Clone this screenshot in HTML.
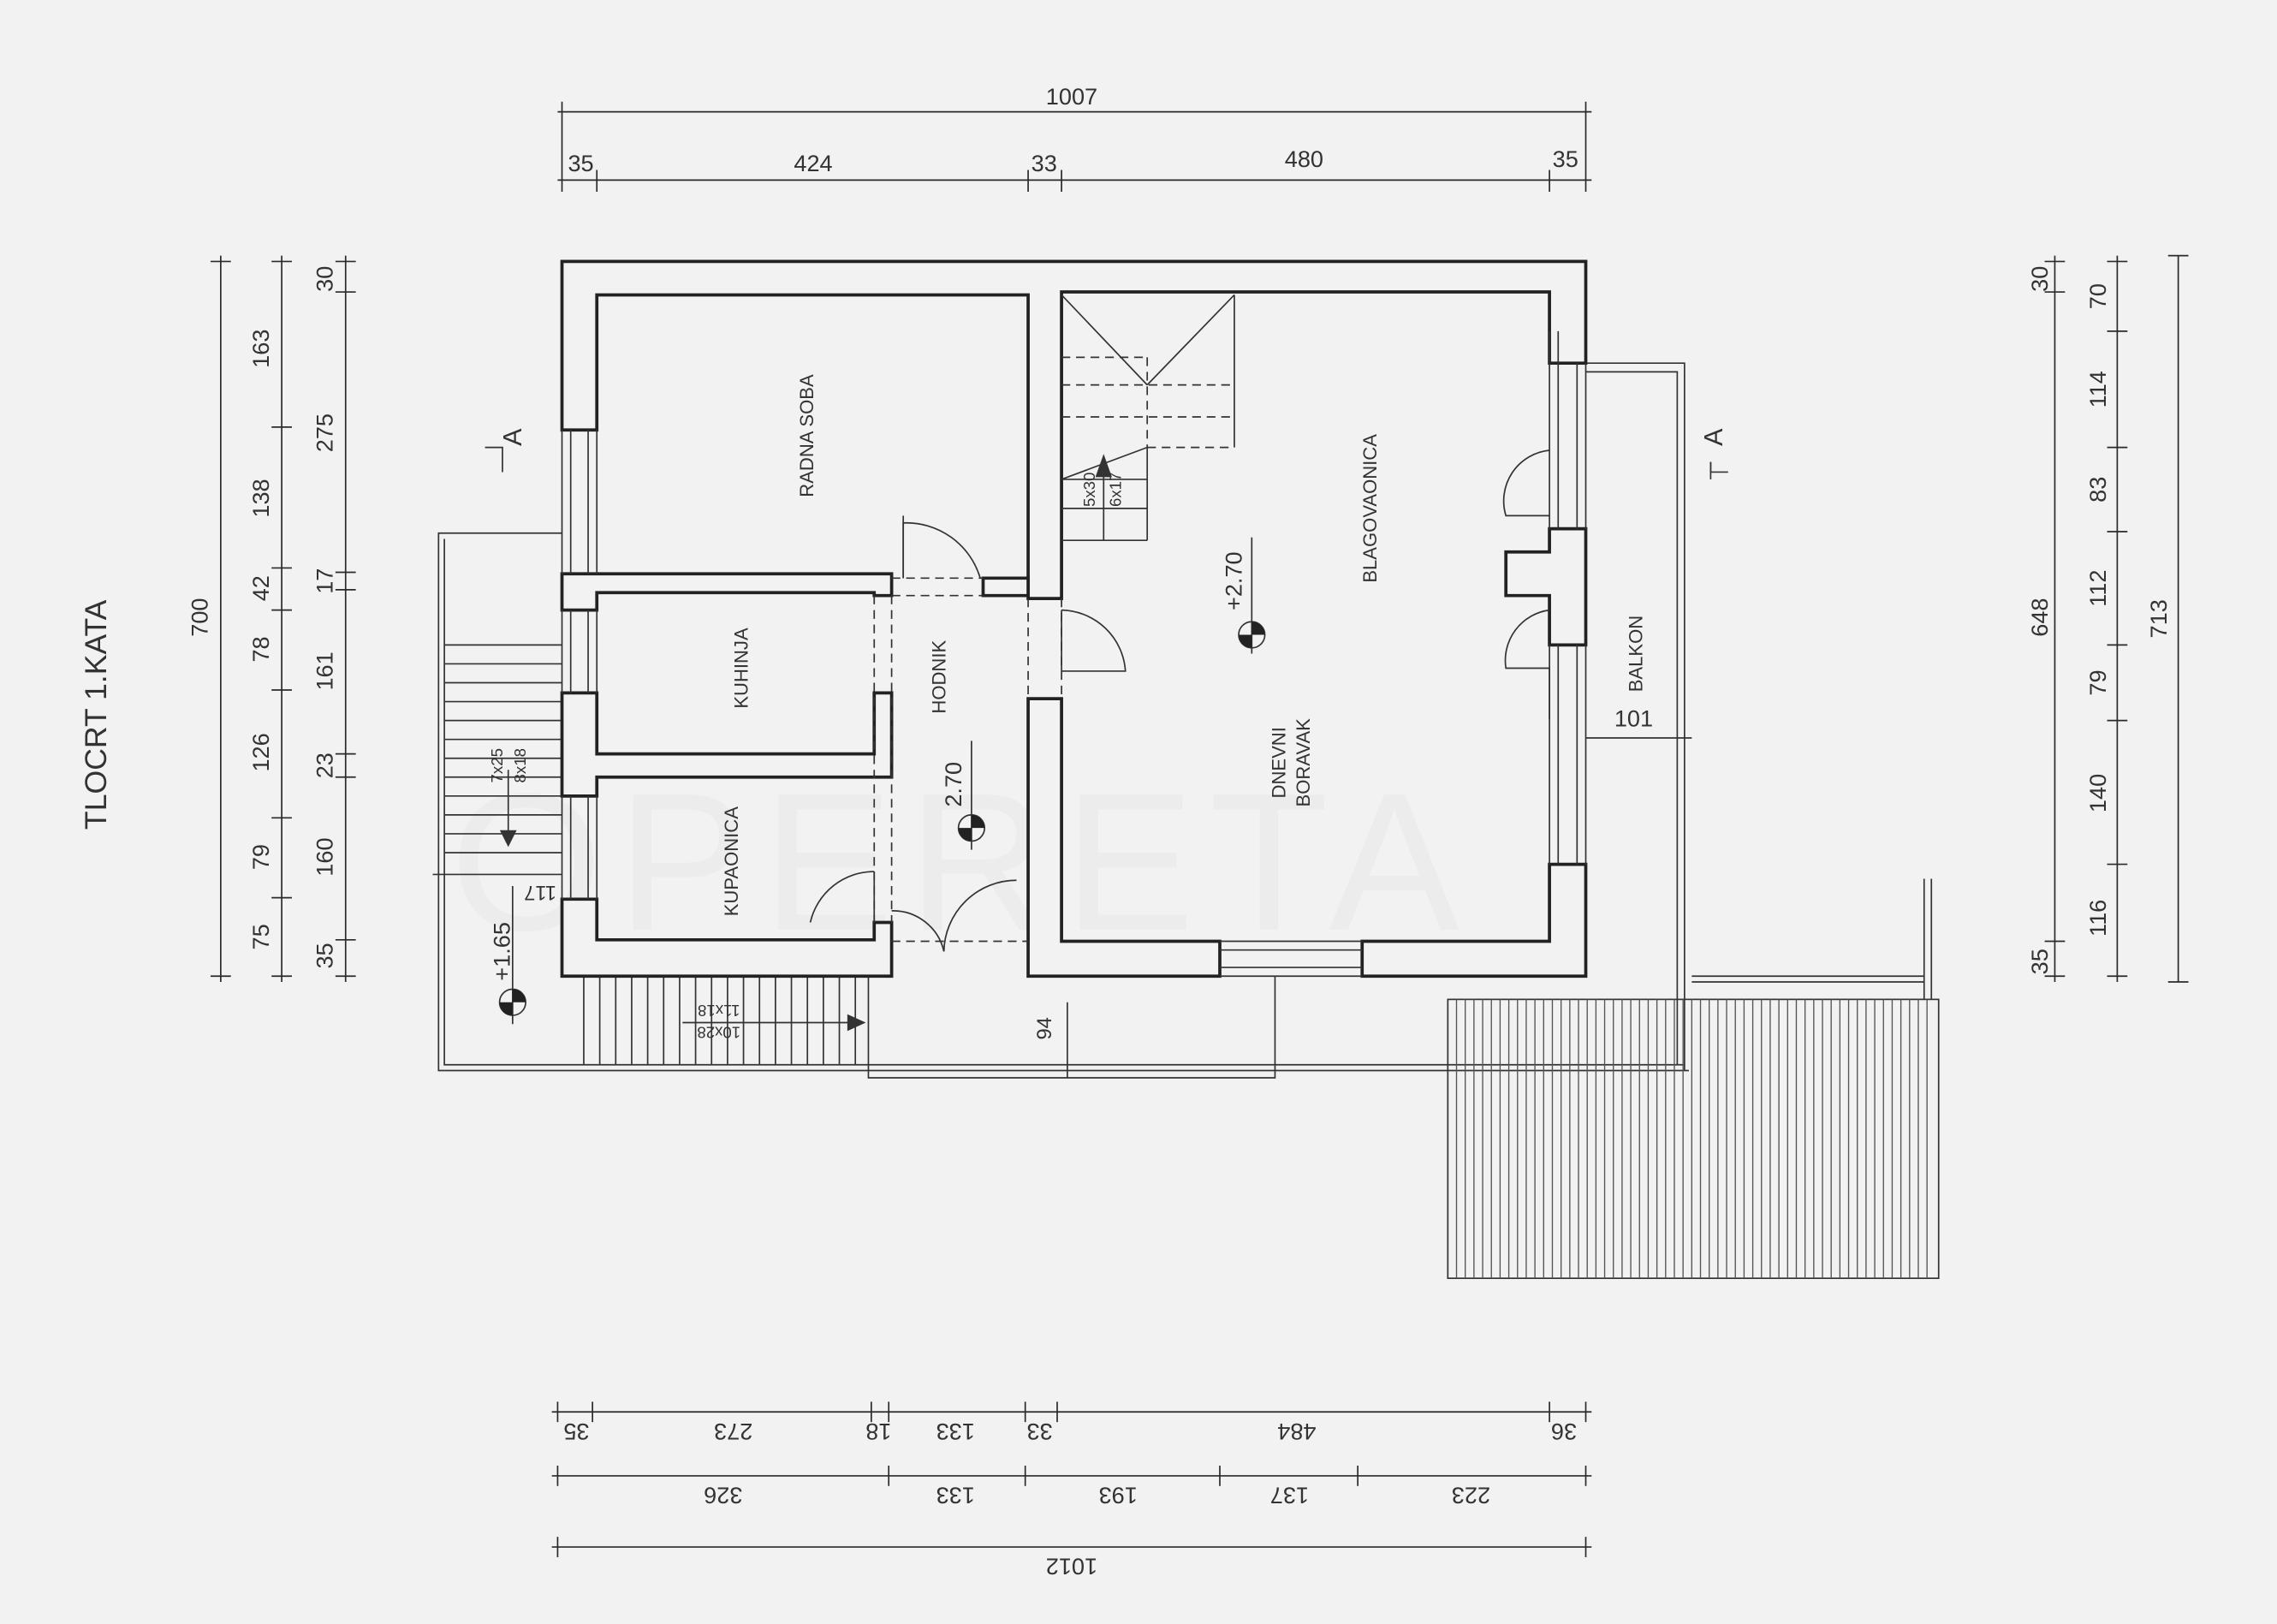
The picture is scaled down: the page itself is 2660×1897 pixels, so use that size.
<!DOCTYPE html>
<html><head><meta charset="utf-8"><style>
html,body{margin:0;padding:0;background:#f2f2f2;}
svg{display:block;}
text{font-family:"Liberation Sans",sans-serif;fill:#333;}
</style></head><body>
<svg width="2660" height="1897" viewBox="0 0 1568 1118" preserveAspectRatio="none" xmlns="http://www.w3.org/2000/svg">
<rect width="1568" height="1118" fill="#f2f2f2"/>
<!-- watermark -->
<text x="310" y="640" font-size="135" style="fill:#ececec" letter-spacing="10">OPERETA</text>
<g stroke="#2a2a2a" fill="none" stroke-width="1">
<line x1="384" y1="77" x2="1096" y2="77"/>
<line x1="384" y1="124" x2="1096" y2="124"/>
<line x1="387" y1="70" x2="387" y2="132"/><line x1="1092" y1="70" x2="1092" y2="132"/>
<line x1="411" y1="117" x2="411" y2="132"/><line x1="708" y1="117" x2="708" y2="132"/><line x1="731" y1="117" x2="731" y2="132"/><line x1="1067" y1="117" x2="1067" y2="132"/>
<line x1="152" y1="176" x2="152" y2="676"/>
<line x1="194" y1="176" x2="194" y2="676"/>
<line x1="238" y1="176" x2="238" y2="676"/>
<line x1="145" y1="180" x2="159" y2="180"/><line x1="145" y1="672" x2="159" y2="672"/>
<line x1="187" y1="180" x2="201" y2="180"/><line x1="187" y1="294" x2="201" y2="294"/><line x1="187" y1="391" x2="201" y2="391"/><line x1="187" y1="420" x2="201" y2="420"/><line x1="187" y1="475" x2="201" y2="475"/><line x1="187" y1="563" x2="201" y2="563"/><line x1="187" y1="618" x2="201" y2="618"/><line x1="187" y1="672" x2="201" y2="672"/>
<line x1="231" y1="180" x2="245" y2="180"/><line x1="231" y1="201" x2="245" y2="201"/><line x1="231" y1="394" x2="245" y2="394"/><line x1="231" y1="406" x2="245" y2="406"/><line x1="231" y1="519" x2="245" y2="519"/><line x1="231" y1="535" x2="245" y2="535"/><line x1="231" y1="647" x2="245" y2="647"/><line x1="231" y1="672" x2="245" y2="672"/>
<line x1="1415" y1="176" x2="1415" y2="676"/>
<line x1="1458" y1="176" x2="1458" y2="676"/>
<line x1="1500" y1="176" x2="1500" y2="676"/>
<line x1="1408" y1="180" x2="1422" y2="180"/><line x1="1408" y1="201" x2="1422" y2="201"/><line x1="1408" y1="648" x2="1422" y2="648"/><line x1="1408" y1="672" x2="1422" y2="672"/>
<line x1="1451" y1="180" x2="1465" y2="180"/><line x1="1451" y1="228" x2="1465" y2="228"/><line x1="1451" y1="308" x2="1465" y2="308"/><line x1="1451" y1="366" x2="1465" y2="366"/><line x1="1451" y1="444" x2="1465" y2="444"/><line x1="1451" y1="496" x2="1465" y2="496"/><line x1="1451" y1="595" x2="1465" y2="595"/><line x1="1451" y1="672" x2="1465" y2="672"/>
<line x1="1493" y1="176" x2="1507" y2="176"/><line x1="1493" y1="676" x2="1507" y2="676"/>
<line x1="380" y1="972" x2="1096" y2="972"/>
<line x1="380" y1="1016" x2="1096" y2="1016"/>
<line x1="380" y1="1065" x2="1096" y2="1065"/>
<line x1="384" y1="965" x2="384" y2="979"/><line x1="408" y1="965" x2="408" y2="979"/><line x1="600" y1="965" x2="600" y2="979"/><line x1="612" y1="965" x2="612" y2="979"/><line x1="706" y1="965" x2="706" y2="979"/><line x1="728" y1="965" x2="728" y2="979"/><line x1="1067" y1="965" x2="1067" y2="979"/><line x1="1092" y1="965" x2="1092" y2="979"/>
<line x1="384" y1="1009" x2="384" y2="1023"/><line x1="612" y1="1009" x2="612" y2="1023"/><line x1="706" y1="1009" x2="706" y2="1023"/><line x1="840" y1="1009" x2="840" y2="1023"/><line x1="935" y1="1009" x2="935" y2="1023"/><line x1="1092" y1="1009" x2="1092" y2="1023"/>
<line x1="384" y1="1058" x2="384" y2="1072"/><line x1="1092" y1="1058" x2="1092" y2="1072"/>
</g>

<g stroke="#333" fill="none" stroke-width="1">
<polyline points="387,367 302,367 302,737 306,737"/>
<polyline points="306,371 306,733 1160,733"/>
<line x1="306" y1="737" x2="1163" y2="737"/>
<line x1="306" y1="444" x2="387" y2="444"/><line x1="306" y1="457" x2="387" y2="457"/><line x1="306" y1="470" x2="387" y2="470"/><line x1="306" y1="483" x2="387" y2="483"/><line x1="306" y1="496" x2="387" y2="496"/><line x1="306" y1="509" x2="387" y2="509"/><line x1="306" y1="522" x2="387" y2="522"/><line x1="306" y1="535" x2="387" y2="535"/><line x1="306" y1="548" x2="387" y2="548"/><line x1="306" y1="561" x2="387" y2="561"/><line x1="306" y1="574" x2="387" y2="574"/><line x1="306" y1="587" x2="387" y2="587"/><line x1="298" y1="602" x2="387" y2="602"/>
<line x1="350" y1="530" x2="350" y2="580"/>
<path d="M345,572 L350,582 L355,572 Z" fill="#333"/>
<path d="M402 672V733M413 672V733M424 672V733M435 672V733M446 672V733M457 672V733M468 672V733M479 672V733M490 672V733M501 672V733M512 672V733M523 672V733M534 672V733M545 672V733M556 672V733M567 672V733M578 672V733M589 672V733"/>
<line x1="470" y1="704" x2="590" y2="704"/>
<path d="M584,699 L595,704 L584,709 Z" fill="#333"/>
<polyline points="598,672 598,742 878,742 878,672"/>
<line x1="735" y1="690" x2="735" y2="742"/>
<polyline points="1092,250 1160,250 1160,737"/>
<polyline points="1092,256 1155,256 1155,733"/>
<line x1="1092" y1="508" x2="1165" y2="508"/>
<rect x="997" y="688" width="338" height="192"/>
<line x1="1325" y1="605" x2="1325" y2="688"/>
<line x1="1330" y1="605" x2="1330" y2="688"/>
<line x1="1165" y1="672" x2="1325" y2="672"/>
<line x1="1165" y1="676" x2="1325" y2="676"/>
</g>
<g stroke="#555" stroke-width="0.8">
<path d="M1003 688V880M1009 688V880M1015 688V880M1021 688V880M1027 688V880M1033 688V880M1039 688V880M1045 688V880M1051 688V880M1057 688V880M1063 688V880M1069 688V880M1075 688V880M1081 688V880M1087 688V880M1093 688V880M1099 688V880M1105 688V880M1111 688V880M1117 688V880M1123 688V880M1129 688V880M1135 688V880M1141 688V880M1147 688V880M1153 688V880M1159 688V880M1165 688V880M1171 688V880M1177 688V880M1183 688V880M1189 688V880M1195 688V880M1201 688V880M1207 688V880M1213 688V880M1219 688V880M1225 688V880M1231 688V880M1237 688V880M1243 688V880M1249 688V880M1255 688V880M1261 688V880M1267 688V880M1273 688V880M1279 688V880M1285 688V880M1291 688V880M1297 688V880M1303 688V880M1309 688V880M1315 688V880M1321 688V880M1327 688V880"/>
</g>

<g stroke="#222" stroke-width="2.2" fill="#f2f2f2">
<path d="M387,180 H1092 V250 H1067 V228 L1067,201 H731 V412 H708 V203 H411 V296 H387 Z"/>
<path d="M387,672 V619 H411 V647 H602 V635 H614 V672 Z"/>
<path d="M708,672 V481 H731 V648 H840 V672 Z"/>
<path d="M938,672 V648 H1067 V595 H1092 V672 Z"/>
<path d="M387,395 H614 V410 H602 V408 H411 V420 H387 Z"/>
<path d="M387,477 H411 V519 H602 V477 H614 V535 H411 V548 H387 Z"/>
<path d="M1067,364 H1092 V444 H1067 V410 H1037 V380 H1067 Z"/>
<path d="M677,398 H708 V410 H677 Z"/>
</g>
<g stroke="#333" stroke-width="1" fill="none">
<line x1="387" y1="296" x2="387" y2="395"/><line x1="393" y1="296" x2="393" y2="395"/><line x1="405" y1="296" x2="405" y2="395"/><line x1="411" y1="296" x2="411" y2="395"/>
<line x1="387" y1="420" x2="387" y2="477"/><line x1="393" y1="420" x2="393" y2="477"/><line x1="405" y1="420" x2="405" y2="477"/><line x1="411" y1="420" x2="411" y2="477"/>
<line x1="387" y1="548" x2="387" y2="619"/><line x1="393" y1="548" x2="393" y2="619"/><line x1="405" y1="548" x2="405" y2="619"/><line x1="411" y1="548" x2="411" y2="619"/>
<line x1="1067" y1="228" x2="1067" y2="364"/><line x1="1073" y1="228" x2="1073" y2="364"/><line x1="1086" y1="250" x2="1086" y2="364"/><line x1="1092" y1="250" x2="1092" y2="364"/>
<line x1="1067" y1="444" x2="1067" y2="595"/><line x1="1073" y1="444" x2="1073" y2="595"/><line x1="1086" y1="444" x2="1086" y2="595"/><line x1="1092" y1="444" x2="1092" y2="595"/>
<line x1="840" y1="654" x2="938" y2="654"/><line x1="840" y1="666" x2="938" y2="666"/><line x1="840" y1="648" x2="938" y2="648"/><line x1="840" y1="672" x2="938" y2="672"/>
<line x1="731" y1="203" x2="790" y2="265"/><line x1="850" y1="203" x2="790" y2="265"/>
<line x1="850" y1="203" x2="850" y2="308"/>
<g stroke-dasharray="6,4">
<line x1="731" y1="246" x2="790" y2="246"/><line x1="731" y1="265" x2="850" y2="265"/><line x1="731" y1="287" x2="850" y2="287"/><line x1="790" y1="308" x2="850" y2="308"/><line x1="790" y1="246" x2="790" y2="308"/>
<line x1="614" y1="398" x2="677" y2="398"/><line x1="614" y1="410" x2="677" y2="410"/>
<line x1="602" y1="410" x2="602" y2="635"/><line x1="614" y1="410" x2="614" y2="635"/>
<line x1="708" y1="412" x2="708" y2="481"/><line x1="731" y1="412" x2="731" y2="481"/>
<line x1="614" y1="648" x2="708" y2="648"/>
</g>
<line x1="731" y1="330" x2="790" y2="308"/>
<line x1="731" y1="330" x2="790" y2="330"/><line x1="731" y1="350" x2="790" y2="350"/><line x1="731" y1="372" x2="790" y2="372"/>
<line x1="790" y1="308" x2="790" y2="372"/>
<line x1="760" y1="372" x2="760" y2="318"/>
<path d="M755,328 L760,314 L765,328 Z" fill="#333"/>
<path d="M622,398 V360 A53,53 0 0 1 675,398"/><line x1="622" y1="398" x2="622" y2="355"/>
<path d="M731,420 A45,45 0 0 1 775,462 L731,462"/><line x1="731" y1="462" x2="731" y2="420"/>
<path d="M602,600 A45,45 0 0 0 558,635"/><line x1="602" y1="600" x2="602" y2="635"/>
<path d="M614,627 A36,36 0 0 1 650,655"/>
<path d="M650,655 A50,50 0 0 1 700,606"/>
<path d="M1067,310 A35,35 0 0 0 1037,355 H1067"/>
<path d="M1067,420 A35,35 0 0 0 1037,460 H1067 V495"/>
<polyline points="334,308 346,308 346,325"/>
<polyline points="1190,325 1178,325 1178,318"/>
<line x1="1178" y1="318" x2="1178" y2="330"/>
<line x1="862" y1="370" x2="862" y2="450"/>
<circle cx="862" cy="437" r="9"/>
<line x1="669" y1="510" x2="669" y2="585"/>
<circle cx="669" cy="570" r="9"/>
<line x1="353" y1="610" x2="353" y2="705"/>
<circle cx="353" cy="690" r="9"/>
</g>
<g fill="#222">
<path d="M862,437 V428 A9,9 0 0 1 871,437 Z M862,437 V446 A9,9 0 0 1 853,437 Z"/>
<path d="M669,570 V561 A9,9 0 0 1 678,570 Z M669,570 V579 A9,9 0 0 1 660,570 Z"/>
<path d="M353,690 V681 A9,9 0 0 1 362,690 Z M353,690 V699 A9,9 0 0 1 344,690 Z"/>
</g>

<g font-size="16">
<text x="738" y="72" text-anchor="middle">1007</text>
<text x="400" y="118" text-anchor="middle">35</text>
<text x="560" y="118" text-anchor="middle">424</text>
<text x="719" y="118" text-anchor="middle">33</text>
<text x="898" y="115" text-anchor="middle">480</text>
<text x="1078" y="115" text-anchor="middle">35</text>
</g>
<g font-size="16" text-anchor="middle">
<text transform="translate(143,425) rotate(-90)">700</text>
<text transform="translate(185,240) rotate(-90)">163</text>
<text transform="translate(185,343) rotate(-90)">138</text>
<text transform="translate(185,405) rotate(-90)">42</text>
<text transform="translate(185,447) rotate(-90)">78</text>
<text transform="translate(185,518) rotate(-90)">126</text>
<text transform="translate(185,590) rotate(-90)">79</text>
<text transform="translate(185,645) rotate(-90)">75</text>
<text transform="translate(229,192) rotate(-90)">30</text>
<text transform="translate(229,298) rotate(-90)">275</text>
<text transform="translate(229,400) rotate(-90)">17</text>
<text transform="translate(229,462) rotate(-90)">161</text>
<text transform="translate(229,527) rotate(-90)">23</text>
<text transform="translate(229,590) rotate(-90)">160</text>
<text transform="translate(229,658) rotate(-90)">35</text>
<text transform="translate(1410,192) rotate(-90)">30</text>
<text transform="translate(1410,425) rotate(-90)">648</text>
<text transform="translate(1410,662) rotate(-90)">35</text>
<text transform="translate(1450,204) rotate(-90)">70</text>
<text transform="translate(1450,268) rotate(-90)">114</text>
<text transform="translate(1450,337) rotate(-90)">83</text>
<text transform="translate(1450,405) rotate(-90)">112</text>
<text transform="translate(1450,470) rotate(-90)">79</text>
<text transform="translate(1450,546) rotate(-90)">140</text>
<text transform="translate(1450,632) rotate(-90)">116</text>
<text transform="translate(1492,426) rotate(-90)">713</text>
<text transform="translate(73,492) rotate(-90)" font-size="21">TLOCRT 1.KATA</text>
<text transform="translate(359,301) rotate(-90)" font-size="18">A</text>
<text transform="translate(1186,301) rotate(-90)" font-size="18">A</text>
<text transform="translate(560,300) rotate(-90)" font-size="13">RADNA SOBA</text>
<text transform="translate(948,350) rotate(-90)" font-size="13">BLAGOVAONICA</text>
<text transform="translate(515,460) rotate(-90)" font-size="13">KUHINJA</text>
<text transform="translate(508,593) rotate(-90)" font-size="13">KUPAONICA</text>
<text transform="translate(651,466) rotate(-90)" font-size="13">HODNIK</text>
<text transform="translate(885,525) rotate(-90)" font-size="13">DNEVNI</text>
<text transform="translate(902,525) rotate(-90)" font-size="13">BORAVAK</text>
<text transform="translate(1131,450) rotate(-90)" font-size="13">BALKON</text>
<text transform="translate(855,400) rotate(-90)" font-size="16">+2.70</text>
<text transform="translate(662,540) rotate(-90)" font-size="16">2.70</text>
<text transform="translate(351,655) rotate(-90)" font-size="16">+1.65</text>
<text transform="translate(724,708) rotate(-90)" font-size="14">94</text>
<text transform="translate(754,337) rotate(-90)" font-size="11">5x30</text>
<text transform="translate(772,337) rotate(-90)" font-size="11">6x17</text>
<text transform="translate(346,527) rotate(-90)" font-size="11">7x25</text>
<text transform="translate(362,527) rotate(-90)" font-size="11">8x18</text>
<text x="1125" y="500" font-size="16">101</text>
</g>
<g font-size="16" text-anchor="middle">
<text transform="translate(397,980) rotate(180)">35</text>
<text transform="translate(505,980) rotate(180)">273</text>
<text transform="translate(605,980) rotate(180)">18</text>
<text transform="translate(658,980) rotate(180)">133</text>
<text transform="translate(716,980) rotate(180)">33</text>
<text transform="translate(893,980) rotate(180)">484</text>
<text transform="translate(1077,980) rotate(180)">36</text>
<text transform="translate(498,1024) rotate(180)">326</text>
<text transform="translate(658,1024) rotate(180)">133</text>
<text transform="translate(770,1024) rotate(180)">193</text>
<text transform="translate(888,1024) rotate(180)">137</text>
<text transform="translate(1013,1024) rotate(180)">223</text>
<text transform="translate(738,1073) rotate(180)">1012</text>
<text transform="translate(372,610) rotate(180)" font-size="14">117</text>
<text transform="translate(495,692) rotate(180)" font-size="11">11x18</text>
<text transform="translate(495,707) rotate(180)" font-size="11">10x28</text>
</g>
</svg>
</body></html>
